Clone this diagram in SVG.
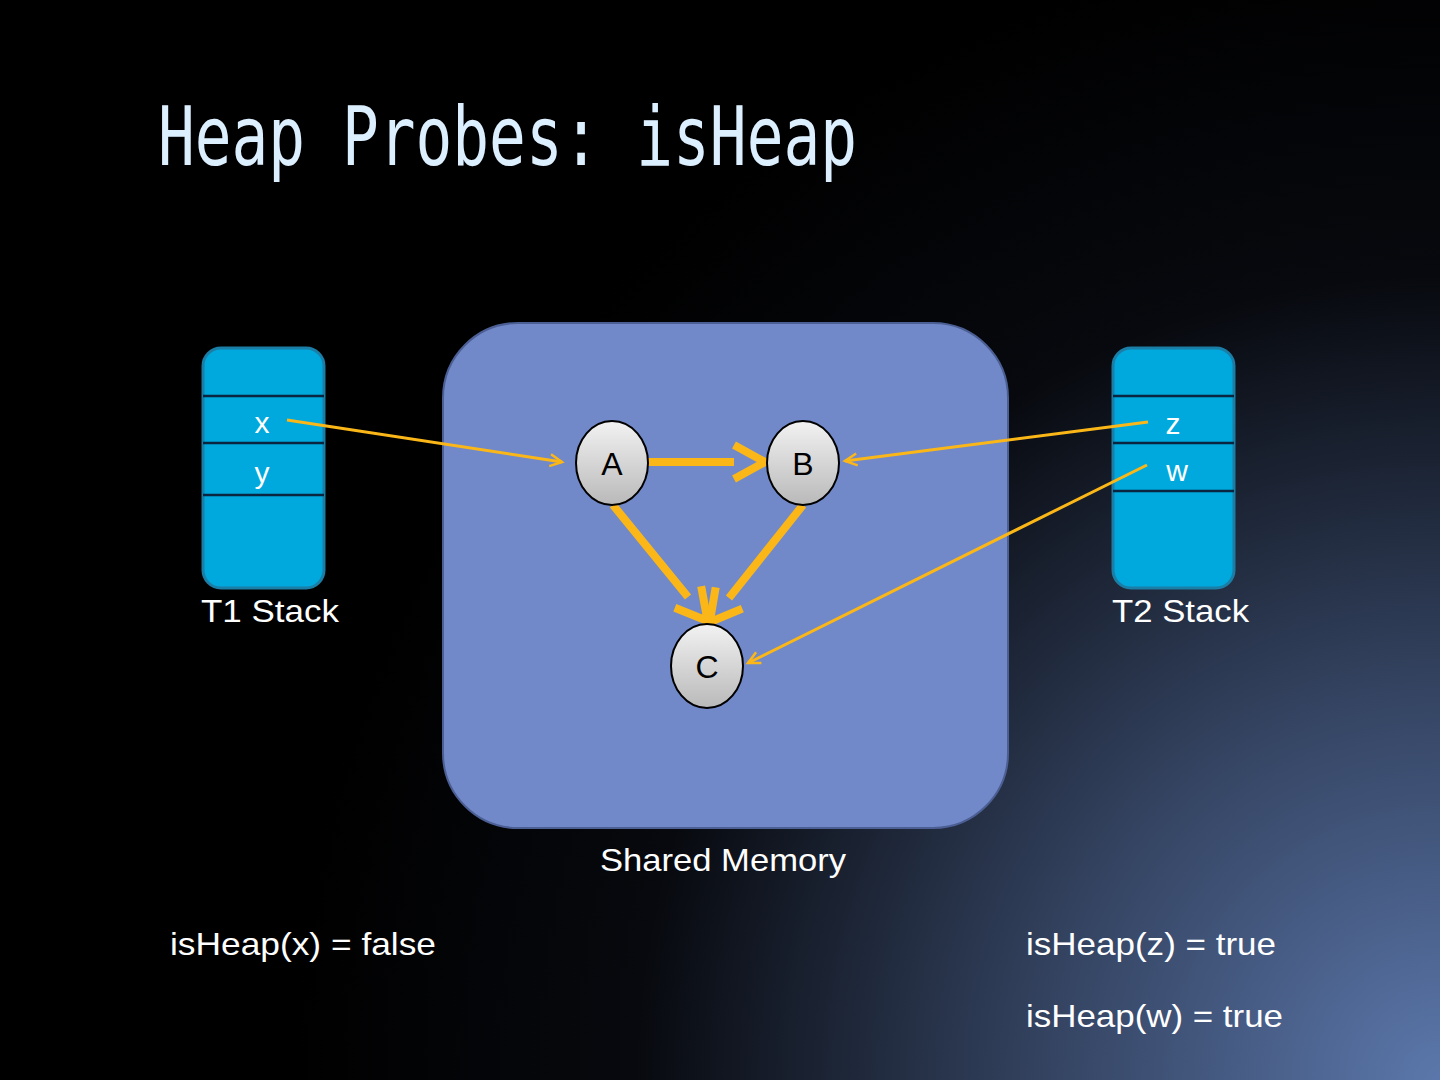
<svg xmlns="http://www.w3.org/2000/svg" width="1440" height="1080" viewBox="0 0 1440 1080">
<defs>
<radialGradient id="bg" cx="1440" cy="1080" r="1150" gradientUnits="userSpaceOnUse">
<stop offset="0" stop-color="#5b77ab"/>
<stop offset="0.35" stop-color="#33425f"/>
<stop offset="0.7" stop-color="#07090e"/>
<stop offset="1" stop-color="#000"/>
</radialGradient>
<linearGradient id="nodeFill" x1="0" y1="0" x2="0" y2="1">
<stop offset="0" stop-color="#f2f2f2"/>
<stop offset="1" stop-color="#b9b9b9"/>
</linearGradient>
<marker id="thin" markerUnits="userSpaceOnUse" viewBox="-16 -10 20 20" markerWidth="20" markerHeight="20" refX="0" refY="0" orient="auto">
<path d="M-12,-6 L0,0 L-12,6" fill="none" stroke="#fbb718" stroke-width="2.5"/>
</marker>
<marker id="thick" markerUnits="userSpaceOnUse" viewBox="-6 -24 44 48" markerWidth="44" markerHeight="48" refX="0" refY="0" orient="auto">
<path d="M0,-17 L31,0 L0,17" fill="none" stroke="#fbb718" stroke-width="8"/>
</marker>
<style>
.lbl{font-family:"Liberation Sans",Arial,sans-serif;font-size:32px;fill:#ffffff}
.cell{font-family:"Liberation Sans",Arial,sans-serif;font-size:30px;fill:#ffffff;text-anchor:middle}
.stack{fill:#00a9dd;stroke:#1b7ea6;stroke-width:3}
.sep{stroke:#0a2540;stroke-width:2.5}
.node{fill:url(#nodeFill);stroke:#000;stroke-width:2}
.ntext{font-family:"Liberation Sans",Arial,sans-serif;font-size:32px;fill:#000;text-anchor:middle}
.thinl{stroke:#fbb718;stroke-width:3;fill:none}
.thickl{stroke:#fbb718;stroke-width:8;fill:none}
.title{font-family:"DejaVu Sans Mono",monospace;font-size:82px;fill:#dcefff}
</style>
</defs>
<rect x="0" y="0" width="1440" height="1080" fill="url(#bg)"/>
<text class="title" x="158" y="165" textLength="699" lengthAdjust="spacingAndGlyphs">Heap Probes: isHeap</text>

<g id="shared-memory">
<rect x="443" y="323" width="565" height="505" rx="75" ry="75" fill="#7189c8" stroke="#4c5f94" stroke-width="2"/>
<text class="lbl" x="600" y="871" textLength="246" lengthAdjust="spacingAndGlyphs">Shared Memory</text>
</g>

<g id="t1-stack">
<rect class="stack" x="203" y="348" width="121" height="240" rx="18" ry="18"/>
<line class="sep" x1="203" y1="396" x2="324" y2="396"/>
<line class="sep" x1="203" y1="443" x2="324" y2="443"/>
<line class="sep" x1="203" y1="495" x2="324" y2="495"/>
<text class="cell" x="262" y="433">x</text>
<text class="cell" x="262" y="483">y</text>
<text class="lbl" x="201" y="622" textLength="138" lengthAdjust="spacingAndGlyphs">T1 Stack</text>
</g>

<g id="t2-stack">
<rect class="stack" x="1113" y="348" width="121" height="240" rx="18" ry="18"/>
<line class="sep" x1="1113" y1="396" x2="1234" y2="396"/>
<line class="sep" x1="1113" y1="443" x2="1234" y2="443"/>
<line class="sep" x1="1113" y1="491" x2="1234" y2="491"/>
<text class="cell" x="1173" y="434">z</text>
<text class="cell" x="1177" y="481">w</text>
<text class="lbl" x="1112" y="622" textLength="137" lengthAdjust="spacingAndGlyphs">T2 Stack</text>
</g>

<g id="connectors">
<line class="thinl" x1="287" y1="420" x2="562" y2="462" marker-end="url(#thin)"/>
<line class="thinl" x1="1148" y1="422" x2="845" y2="461" marker-end="url(#thin)"/>
<line class="thinl" x1="1147" y1="465" x2="748" y2="663" marker-end="url(#thin)"/>
<line class="thickl" x1="648" y1="462" x2="734" y2="462" marker-end="url(#thick)"/>
<line class="thickl" x1="613" y1="505" x2="688" y2="597" marker-end="url(#thick)"/>
<line class="thickl" x1="803" y1="505" x2="729" y2="598" marker-end="url(#thick)"/>
</g>

<g id="node-a">
<ellipse class="node" cx="612" cy="463" rx="36" ry="42"/>
<text class="ntext" x="612" y="475">A</text>
</g>
<g id="node-b">
<ellipse class="node" cx="803" cy="463" rx="36" ry="42"/>
<text class="ntext" x="803" y="475">B</text>
</g>
<g id="node-c">
<ellipse class="node" cx="707" cy="666" rx="36" ry="42"/>
<text class="ntext" x="707" y="678">C</text>
</g>

<g id="results">
<text class="lbl" x="170" y="955" textLength="266" lengthAdjust="spacingAndGlyphs">isHeap(x) = false</text>
<text class="lbl" x="1026" y="955" textLength="250" lengthAdjust="spacingAndGlyphs">isHeap(z) = true</text>
<text class="lbl" x="1026" y="1027" textLength="257" lengthAdjust="spacingAndGlyphs">isHeap(w) = true</text>
</g>
</svg>
